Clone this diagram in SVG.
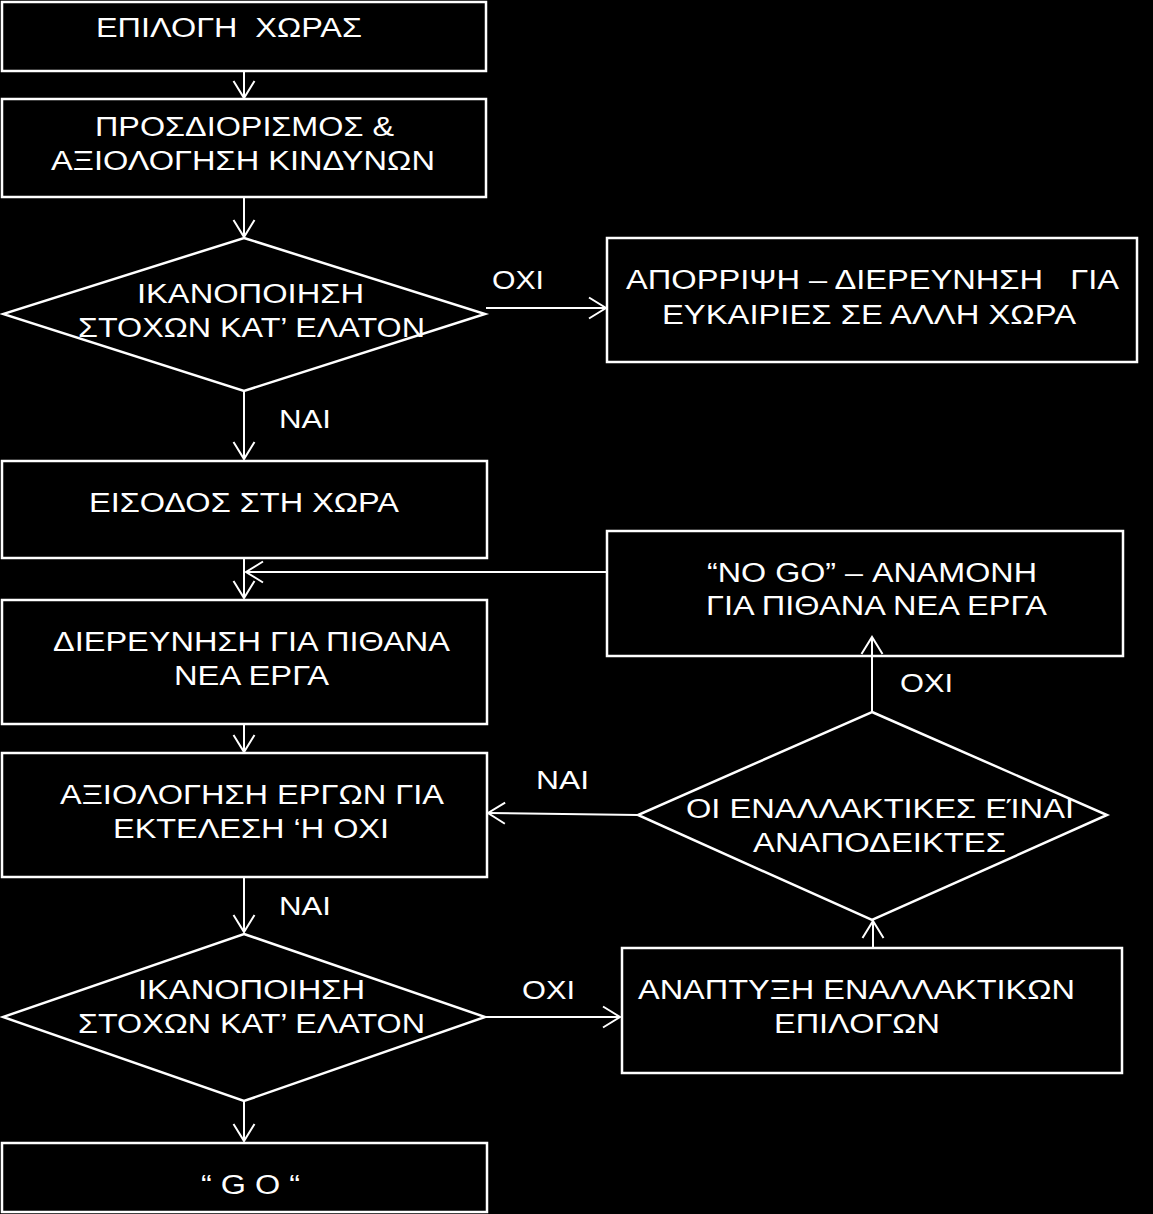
<svg xmlns="http://www.w3.org/2000/svg" width="1153" height="1214" viewBox="0 0 1153 1214">
<style>
.n{fill:#000;stroke:#fff;stroke-width:2.5}
.t{font-family:"Liberation Sans",Arial,sans-serif;font-size:27px;fill:#fff}
.l{font-family:"Liberation Sans",Arial,sans-serif;font-size:26px;fill:#fff}
.c{stroke:#fff;stroke-width:2;fill:none}
</style>
<defs>
<marker id="ah" viewBox="-19 -12 21 24" refX="0" refY="0" markerWidth="21" markerHeight="24" markerUnits="userSpaceOnUse" orient="auto">
<path d="M-17,-10.5 L0,0 L-17,10.5" fill="none" stroke="#fff" stroke-width="2"/>
</marker>
</defs>
<rect x="0" y="0" width="1153" height="1214" fill="#000"/>
<g id="n1">
<rect class="n" x="2" y="2" width="484" height="69"/>
<text class="t" x="96" y="37" textLength="266" lengthAdjust="spacingAndGlyphs" xml:space="preserve">ΕΠΙΛΟΓΗ  ΧΩΡΑΣ</text>
</g>
<g id="n2">
<rect class="n" x="2" y="99" width="484" height="98"/>
<text class="t" x="95" y="136" textLength="299" lengthAdjust="spacingAndGlyphs">ΠΡΟΣΔΙΟΡΙΣΜΟΣ &amp;</text>
<text class="t" x="51" y="170" textLength="384" lengthAdjust="spacingAndGlyphs">ΑΞΙΟΛΟΓΗΣΗ ΚΙΝΔΥΝΩΝ</text>
</g>
<g id="d1">
<polygon class="n" points="244,238 485,314 244,391 3,314"/>
<text class="t" x="137" y="303" textLength="227" lengthAdjust="spacingAndGlyphs">ΙΚΑΝΟΠΟΙΗΣΗ</text>
<text class="t" x="78" y="337" textLength="347" lengthAdjust="spacingAndGlyphs">ΣΤΟΧΩΝ ΚΑΤ’ ΕΛΑΤΟΝ</text>
</g>
<g id="n3">
<rect class="n" x="607" y="238" width="530" height="124"/>
<text class="t" x="626" y="289" textLength="493" lengthAdjust="spacingAndGlyphs" xml:space="preserve">ΑΠΟΡΡΙΨΗ – ΔΙΕΡΕΥΝΗΣΗ   ΓΙΑ</text>
<text class="t" x="662" y="324" textLength="414" lengthAdjust="spacingAndGlyphs">ΕΥΚΑΙΡΙΕΣ ΣΕ ΑΛΛΗ ΧΩΡΑ</text>
</g>
<g id="n4">
<rect class="n" x="2" y="461" width="485" height="97"/>
<text class="t" x="89" y="512" textLength="310" lengthAdjust="spacingAndGlyphs">ΕΙΣΟΔΟΣ ΣΤΗ ΧΩΡΑ</text>
</g>
<g id="n5">
<rect class="n" x="2" y="600" width="485" height="124"/>
<text class="t" x="53" y="651" textLength="397" lengthAdjust="spacingAndGlyphs">ΔΙΕΡΕΥΝΗΣΗ ΓΙΑ ΠΙΘΑΝΑ</text>
<text class="t" x="174" y="685" textLength="155" lengthAdjust="spacingAndGlyphs">ΝΕΑ ΕΡΓΑ</text>
</g>
<g id="n6">
<rect class="n" x="2" y="753" width="485" height="124"/>
<text class="t" x="60" y="804" textLength="384" lengthAdjust="spacingAndGlyphs">ΑΞΙΟΛΟΓΗΣΗ ΕΡΓΩΝ ΓΙΑ</text>
<text class="t" x="113" y="838" textLength="276" lengthAdjust="spacingAndGlyphs">ΕΚΤΕΛΕΣΗ ‘Η ΟΧΙ</text>
</g>
<g id="d2">
<polygon class="n" points="244,934 485,1017 244,1101 3,1017"/>
<text class="t" x="138" y="999" textLength="227" lengthAdjust="spacingAndGlyphs">ΙΚΑΝΟΠΟΙΗΣΗ</text>
<text class="t" x="78" y="1033" textLength="347" lengthAdjust="spacingAndGlyphs">ΣΤΟΧΩΝ ΚΑΤ’ ΕΛΑΤΟΝ</text>
</g>
<g id="n7">
<rect class="n" x="2" y="1143" width="485" height="69"/>
<text class="t" x="201" y="1194" textLength="99" lengthAdjust="spacingAndGlyphs">“ G O “</text>
</g>
<g id="n8">
<rect class="n" x="607" y="531" width="516" height="125"/>
<text class="t" x="707" y="582" textLength="330" lengthAdjust="spacingAndGlyphs">“NO GO” – ΑΝΑΜΟΝΗ</text>
<text class="t" x="706" y="615" textLength="341" lengthAdjust="spacingAndGlyphs">ΓΙΑ ΠΙΘΑΝΑ ΝΕΑ ΕΡΓΑ</text>
</g>
<g id="d3">
<polygon class="n" points="872,712 1107,815 872,920 638,815"/>
<text class="t" x="686" y="818" textLength="388" lengthAdjust="spacingAndGlyphs">ΟΙ ΕΝΑΛΛΑΚΤΙΚΕΣ ΕΊΝΑΙ</text>
<text class="t" x="753" y="852" textLength="253" lengthAdjust="spacingAndGlyphs">ΑΝΑΠΟΔΕΙΚΤΕΣ</text>
</g>
<g id="n9">
<rect class="n" x="622" y="948" width="500" height="125"/>
<text class="t" x="638" y="999" textLength="437" lengthAdjust="spacingAndGlyphs">ΑΝΑΠΤΥΞΗ ΕΝΑΛΛΑΚΤΙΚΩΝ</text>
<text class="t" x="774" y="1033" textLength="166" lengthAdjust="spacingAndGlyphs">ΕΠΙΛΟΓΩΝ</text>
</g>
<g id="connectors">
<line class="c" x1="244" y1="71" x2="244" y2="98" marker-end="url(#ah)"/>
<line class="c" x1="244" y1="197" x2="244" y2="237" marker-end="url(#ah)"/>
<line class="c" x1="486" y1="308" x2="606" y2="308" marker-end="url(#ah)"/>
<line class="c" x1="244" y1="391" x2="244" y2="459" marker-end="url(#ah)"/>
<line class="c" x1="244" y1="558" x2="244" y2="598" marker-end="url(#ah)"/>
<line class="c" x1="607" y1="572" x2="246" y2="572" marker-end="url(#ah)"/>
<line class="c" x1="244" y1="724" x2="244" y2="752" marker-end="url(#ah)"/>
<line class="c" x1="638" y1="815" x2="488" y2="813" marker-end="url(#ah)"/>
<line class="c" x1="244" y1="877" x2="244" y2="932" marker-end="url(#ah)"/>
<line class="c" x1="485" y1="1017" x2="620" y2="1017" marker-end="url(#ah)"/>
<line class="c" x1="244" y1="1101" x2="244" y2="1141" marker-end="url(#ah)"/>
<line class="c" x1="873" y1="948" x2="873" y2="921" marker-end="url(#ah)"/>
<line class="c" x1="872" y1="712" x2="872" y2="637" marker-end="url(#ah)"/>
<text class="l" x="492" y="289" textLength="52" lengthAdjust="spacingAndGlyphs">ΟΧΙ</text>
<text class="l" x="279" y="428" textLength="52" lengthAdjust="spacingAndGlyphs">ΝΑΙ</text>
<text class="l" x="536" y="789" textLength="53" lengthAdjust="spacingAndGlyphs">ΝΑΙ</text>
<text class="l" x="279" y="915" textLength="52" lengthAdjust="spacingAndGlyphs">ΝΑΙ</text>
<text class="l" x="522" y="999" textLength="53" lengthAdjust="spacingAndGlyphs">ΟΧΙ</text>
<text class="l" x="900" y="692" textLength="53" lengthAdjust="spacingAndGlyphs">ΟΧΙ</text>
</g>
</svg>
